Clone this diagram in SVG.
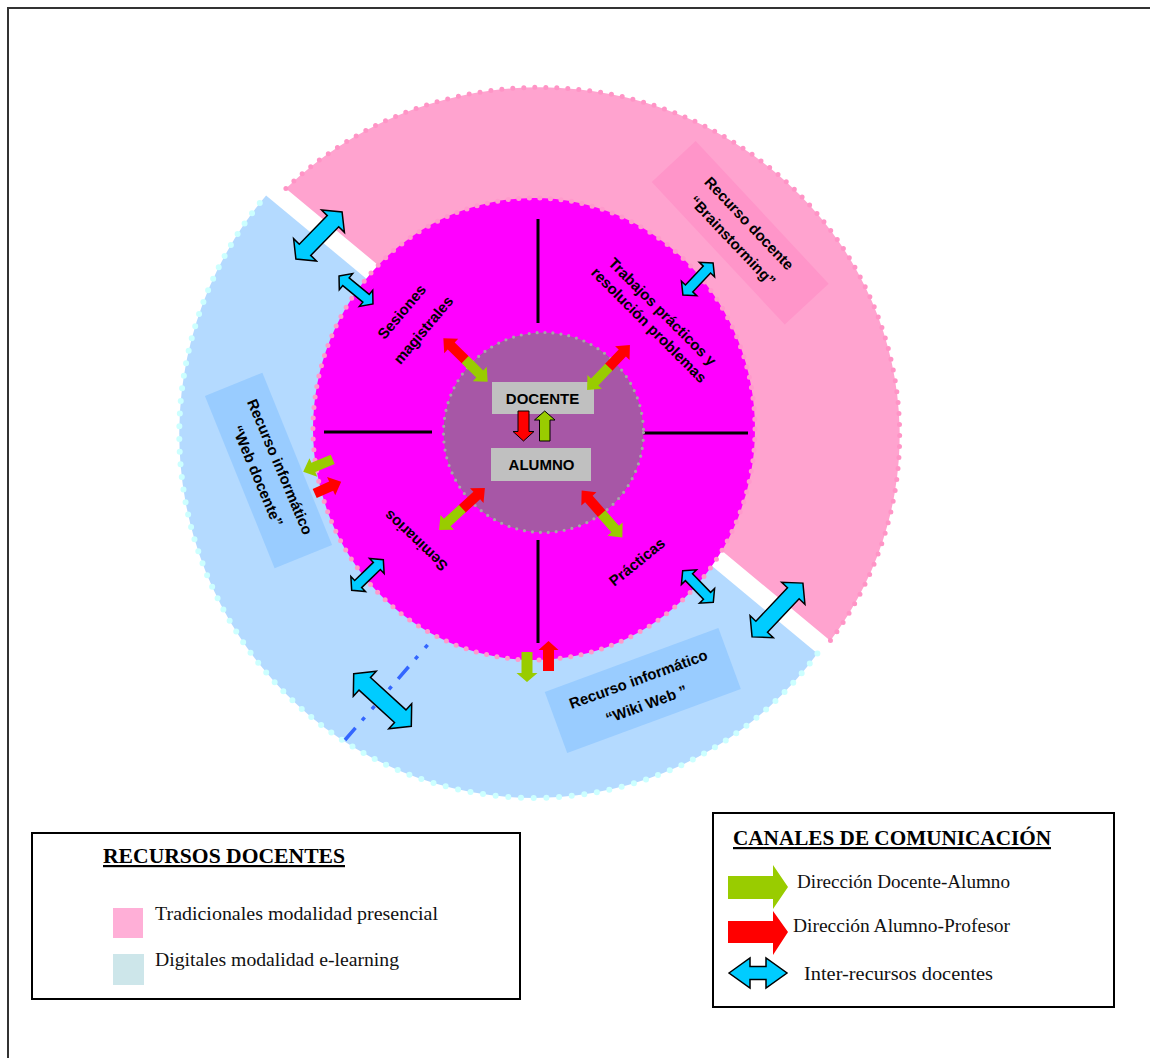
<svg xmlns="http://www.w3.org/2000/svg" width="1150" height="1058" viewBox="0 0 1150 1058">
<defs>
<style>
.lbl{font-family:"Liberation Sans",Arial,Helvetica,sans-serif;font-weight:bold;font-size:15px;fill:#000;text-anchor:middle}
.legt{font-family:"Liberation Serif","Times New Roman",serif;font-weight:bold;font-size:22px;fill:#000;text-decoration:underline}
.leg{font-family:"Liberation Serif","Times New Roman",serif;font-size:19px;fill:#111}
.cy{fill:#00ccff;stroke:#000;stroke-width:1.5;stroke-linejoin:miter}
.rd{fill:#ff0000}
.gn{fill:#99cc00}
.bar{stroke:#000;stroke-width:3}
.dots{fill:none;stroke-linecap:round}
</style>
</defs>
<rect x="0" y="0" width="1150" height="1058" fill="#fff"/>
<rect x="8" y="8" width="1150" height="1060" fill="none" stroke="#333" stroke-width="2"/>

<g id="recursos-tradicionales">
<path d="M285.9,188.5 A360,348 0 0 1 830.3,640.7 Z" fill="#ffa3cf"/>
<path class="dots" d="M285.9,188.5 A360,348 0 0 1 830.3,640.7" stroke="#ff94c6" stroke-width="5" stroke-dasharray="0 11"/>
</g>
<g id="recursos-digitales">
<path d="M817.4,653.5 A355,364 0 1 1 266.1,195.4 Z" fill="#b4daff"/>
<path class="dots" d="M817.4,653.5 A355,364 0 1 1 266.1,195.4" stroke="#ccffff" stroke-width="6" stroke-dasharray="0 12.7"/>
</g>

<g id="brainstorming">
<rect x="-97.5" y="-30" width="195" height="60" fill="#ff95c9" transform="translate(740.2,232.8) rotate(47)"/>
<text class="lbl" transform="translate(745.4,226.9) rotate(46.5)">Recurso docente</text>
<text class="lbl" transform="translate(728.7,244.4) rotate(46.5)">“Brainstorming”</text>
</g>
<g id="web-docente">
<rect x="-93" y="-31" width="186" height="62" fill="#99ccff" transform="translate(268.5,470.5) rotate(68)"/>
<text class="lbl" transform="translate(275.2,468.8) rotate(67)">Recurso informático</text>
<text class="lbl" transform="translate(252.7,477.9) rotate(67)">“Web docente”</text>
</g>
<g id="wiki-web">
<rect x="-92.5" y="-32.5" width="185" height="65" fill="#99ccff" transform="translate(642.8,690.5) rotate(-20.2)"/>
<text class="lbl" transform="translate(640.1,684.1) rotate(-20)">Recurso informático</text>
<text class="lbl" transform="translate(648.1,709.1) rotate(-20)">“Wiki Web ”</text>
</g>

<g id="modalidades">
<ellipse cx="534" cy="429" rx="221" ry="231" fill="#ff00ff"/>
<ellipse class="dots" cx="534" cy="429" rx="221" ry="231" stroke="#ff99cc" stroke-width="5" stroke-dasharray="0 10.6"/>
<line class="bar" x1="538" y1="219" x2="538" y2="323"/>
<line class="bar" x1="538" y1="540" x2="538" y2="643"/>
<line class="bar" x1="324" y1="432" x2="432" y2="432"/>
<line class="bar" x1="642" y1="433" x2="748" y2="433"/>
</g>

<g id="nucleo">
<circle cx="543.5" cy="432.5" r="100" fill="#a757a6"/>
<circle class="dots" cx="543.5" cy="432.5" r="100" stroke="#a6a6a6" stroke-width="3.2" stroke-dasharray="0 8"/>
</g>
<g id="docente">
<rect x="492" y="382" width="102" height="32" fill="#c0c0c0"/>
<text class="lbl" x="542.5" y="404">DOCENTE</text>
</g>
<g id="alumno">
<rect x="491" y="448" width="100" height="33" fill="#c0c0c0"/>
<text class="lbl" x="541.5" y="470">ALUMNO</text>
</g>

<g id="sesiones-magistrales">
<text class="lbl" transform="translate(405.7,315.1) rotate(-50)">Sesiones</text>
<text class="lbl" transform="translate(427.3,333.4) rotate(-50)">magistrales</text>
</g>
<g id="trabajos-practicos">
<text class="lbl" transform="translate(658.8,315.4) rotate(45)">Trabajos prácticos y</text>
<text class="lbl" transform="translate(645.3,328.7) rotate(45)">resolución problemas</text>
</g>
<g id="seminarios">
<text class="lbl" transform="translate(419.4,537) rotate(-136.5)">Seminarios</text>
</g>
<g id="practicas">
<text class="lbl" transform="translate(640.3,566.1) rotate(-39)">Prácticas</text>
</g>

<g id="connectors">
<path d="M345,740 L431,641" fill="none" stroke="#3366ff" stroke-width="3.5" stroke-dasharray="16 10 4 11 4 9 4 9 4 10"/>
<!-- center arrows -->
<path d="M518,411 L529,411 L529,431.5 L534,431.5 L523.5,441 L513,431.5 L518,431.5 Z" class="rd" stroke="#000" stroke-width="1"/>
<path d="M539.5,441 L550,441 L550,420 L555,420 L544.7,411 L534.5,420 L539.5,420 Z" class="gn" stroke="#000" stroke-width="1"/>
<!-- bicolour arrows -->
<g transform="translate(465.5,360) rotate(-135.6)"><path class="rd" d="M0,-5 L20,-5 L20,-10 L31,0 L20,10 L20,5 L0,5 Z"/><path class="gn" d="M0.5,-5 L-20,-5 L-20,-10 L-31,0 L-20,10 L-20,5 L0.5,5 Z"/></g>
<g transform="translate(608.5,367.5) rotate(-46.3)"><path class="rd" d="M0,-5 L20,-5 L20,-10 L31,0 L20,10 L20,5 L0,5 Z"/><path class="gn" d="M0.5,-5 L-20,-5 L-20,-10 L-31,0 L-20,10 L-20,5 L0.5,5 Z"/></g>
<g transform="translate(462,509) rotate(-42.4)"><path class="rd" d="M0,-5 L20,-5 L20,-10 L31,0 L20,10 L20,5 L0,5 Z"/><path class="gn" d="M0.5,-5 L-20,-5 L-20,-10 L-31,0 L-20,10 L-20,5 L0.5,5 Z"/></g>
<g transform="translate(602,514) rotate(-131)"><path class="rd" d="M0,-5 L20,-5 L20,-10 L31,0 L20,10 L20,5 L0,5 Z"/><path class="gn" d="M0.5,-5 L-20,-5 L-20,-10 L-31,0 L-20,10 L-20,5 L0.5,5 Z"/></g>
<!-- web docente arrows -->
<path class="gn" transform="translate(332.7,459.3) rotate(157.1)" d="M0,-5 L21,-5 L21,-10 L32,0 L21,10 L21,5 L0,5 Z"/>
<path class="rd" transform="translate(314.7,493.5) rotate(-24)" d="M0,-5 L18,-5 L18,-10 L29,0 L18,10 L18,5 L0,5 Z"/>
<!-- wiki arrows -->
<path class="gn" d="M521.5,652 L532.5,652 L532.5,673 L537.5,673 L527,682 L516.5,673 L521.5,673 Z"/>
<path class="rd" d="M543,671 L554,671 L554,650 L558.5,650 L548.5,641 L538.5,650 L543,650 Z"/>
<!-- inter-resource arrows -->
<path class="cy" transform="translate(319,235.5) rotate(-45.6)" d="M-33,0 L-20,-16 L-20,-8 L20,-8 L20,-16 L33,0 L20,16 L20,8 L-20,8 L-20,16 Z"/>
<path class="cy" transform="translate(777.5,610) rotate(-46.6)" d="M-37,0 L-23,-16 L-23,-8 L23,-8 L23,-16 L37,0 L23,16 L23,8 L-23,8 L-23,16 Z"/>
<path class="cy" transform="translate(382.5,700) rotate(42.4)" d="M-39,0 L-24,-17 L-24,-8.5 L24,-8.5 L24,-17 L39,0 L24,17 L24,8.5 L-24,8.5 L-24,17 Z"/>
<path class="cy" transform="translate(356,290) rotate(39.5)" d="M-22,0 L-13,-10.5 L-13,-5 L13,-5 L13,-10.5 L22,0 L13,10.5 L13,5 L-13,5 L-13,10.5 Z"/>
<path class="cy" transform="translate(698,279) rotate(-46.7)" d="M-22,0 L-13,-10.5 L-13,-5 L13,-5 L13,-10.5 L22,0 L13,10.5 L13,5 L-13,5 L-13,10.5 Z"/>
<path class="cy" transform="translate(367.5,575) rotate(-44)" d="M-22,0 L-13,-10.5 L-13,-5 L13,-5 L13,-10.5 L22,0 L13,10.5 L13,5 L-13,5 L-13,10.5 Z"/>
<path class="cy" transform="translate(698,586.5) rotate(45.9)" d="M-22,0 L-13,-10.5 L-13,-5 L13,-5 L13,-10.5 L22,0 L13,10.5 L13,5 L-13,5 L-13,10.5 Z"/>
</g>

<g id="leyenda-recursos">
<rect x="32" y="833" width="488" height="166" fill="#fff" stroke="#000" stroke-width="2"/>
<text class="legt" x="103" y="863" textLength="242" lengthAdjust="spacingAndGlyphs">RECURSOS DOCENTES</text>
<rect x="113" y="908" width="30" height="30" fill="#ffafd7"/>
<text class="leg" x="155" y="920" textLength="283" lengthAdjust="spacingAndGlyphs">Tradicionales modalidad presencial</text>
<rect x="113" y="954" width="31" height="31" fill="#cde6ea"/>
<text class="leg" x="155" y="966" textLength="244" lengthAdjust="spacingAndGlyphs">Digitales modalidad e-learning</text>
</g>

<g id="leyenda-canales">
<rect x="713" y="813" width="401" height="194" fill="#fff" stroke="#000" stroke-width="2"/>
<text class="legt" x="733" y="845" textLength="318" lengthAdjust="spacingAndGlyphs">CANALES DE COMUNICACIÓN</text>
<path class="gn" d="M728,876 L773,876 L773,865 L788,887 L773,909 L773,899 L728,899 Z"/>
<text class="leg" x="797" y="888" textLength="213" lengthAdjust="spacingAndGlyphs">Dirección Docente-Alumno</text>
<path class="rd" d="M728,921 L773,921 L773,911 L788,932 L773,955 L773,943 L728,943 Z"/>
<text class="leg" x="793" y="932" textLength="217" lengthAdjust="spacingAndGlyphs">Dirección Alumno-Profesor</text>
<path class="cy" stroke-width="2" d="M729,973 L750,958 L750,966.5 L766,966.5 L766,958 L787,973 L766,988 L766,979.5 L750,979.5 L750,988 Z"/>
<text class="leg" x="804" y="980" textLength="189" lengthAdjust="spacingAndGlyphs">Inter-recursos docentes</text>
</g>
</svg>
